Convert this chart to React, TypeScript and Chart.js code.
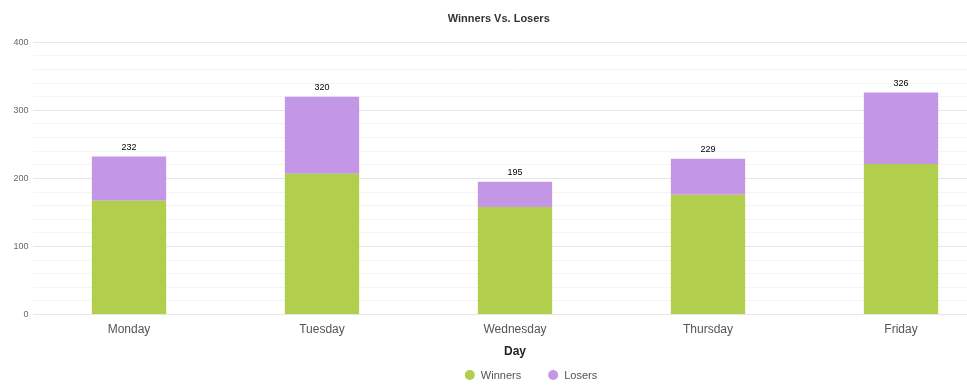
import React, { useEffect, useRef } from "react";
import { Chart, registerables } from "chart.js";

Chart.register(...registerables);

const days = ["Monday", "Tuesday", "Wednesday", "Thursday", "Friday"];
const winners = [167, 207, 158, 176, 221];
const losers = [65, 113, 37, 53, 105];
const totals = [232, 320, 195, 229, 326];
const yTicks = [0, 100, 200, 300, 400];

const FONT = "'Liberation Sans', Arial, sans-serif";

const totalLabels = {
  id: "totalLabels",
  afterDatasetsDraw(chart: any) {
    const ctx = chart.ctx;
    const meta = chart.getDatasetMeta(1);
    ctx.save();
    ctx.font = `9px ${FONT}`;
    ctx.fillStyle = "#000";
    ctx.textAlign = "center";
    ctx.textBaseline = "bottom";
    meta.data.forEach((bar: any, i: number) => {
      ctx.fillText(String(totals[i]), bar.x, bar.y - 5);
    });
    ctx.restore();
  },
};

const bottomLegend = {
  id: "bottomLegend",
  afterDraw(chart: any) {
    const ctx = chart.ctx;
    const ds = chart.data.datasets;
    ctx.save();
    ctx.font = `11px ${FONT}`;
    const r = 5;
    const gapText = 6;
    const gapItems = 27;
    const widths = ds.map((d: any) => 2 * r + gapText + ctx.measureText(d.label).width);
    const total = widths.reduce((a: number, b: number) => a + b, 0) + gapItems * (ds.length - 1);
    const cx = (chart.chartArea.left + chart.chartArea.right) / 2 + 16;
    let x = cx - total / 2;
    const y = 375;
    ds.forEach((d: any, i: number) => {
      ctx.beginPath();
      ctx.fillStyle = d.backgroundColor;
      ctx.arc(x + r, y, r, 0, Math.PI * 2);
      ctx.fill();
      ctx.fillStyle = "#555";
      ctx.textAlign = "left";
      ctx.textBaseline = "middle";
      ctx.fillText(d.label, x + 2 * r + gapText, y + 0.5);
      x += widths[i] + gapItems;
    });
    ctx.restore();
  },
};

export default function App() {
  const ref = useRef<HTMLCanvasElement>(null);
  useEffect(() => {
    const chart = new Chart(ref.current!, {
      type: "bar",
      data: {
        labels: days,
        datasets: [
          {
            label: "Winners",
            data: winners,
            backgroundColor: "#b1cf4c",
            borderWidth: 0,
            barPercentage: 0.385,
            categoryPercentage: 1,
          },
          {
            label: "Losers",
            data: losers,
            backgroundColor: "#c397e5",
            borderWidth: 0,
            barPercentage: 0.385,
            categoryPercentage: 1,
          },
        ],
      },
      options: {
        responsive: false,
        animation: false,
        layout: { padding: { top: 0, right: 2.5, bottom: 26, left: 0 } },
        plugins: {
          title: {
            display: true,
            text: "Winners Vs. Losers",
            color: "#333",
            font: { family: FONT, size: 11, weight: "bold" },
            padding: { top: 12, bottom: 17 },
          },
          legend: { display: false },
          tooltip: { enabled: false },
        },
        scales: {
          x: {
            stacked: true,
            grid: { display: false, drawTicks: false },
            border: { display: false },
            ticks: {
              color: "#555",
              padding: 9,
              font: { family: FONT, size: 12, lineHeight: 1 },
            },
            title: {
              display: true,
              text: "Day",
              color: "#222",
              padding: { top: 0, bottom: 0 },
              font: { family: FONT, size: 12, weight: "bold" },
            },
          },
          y: {
            stacked: true,
            min: 0,
            max: 400,
            afterFit: (scale: any) => {
              scale.width = 32.5;
            },
            border: { display: false },
            grid: {
              drawTicks: false,
              color: (c: any) => (c.tick && c.tick.value % 100 === 0 ? "#e6e6e6" : "#f4f4f4"),
            },
            ticks: {
              stepSize: 20,
              autoSkip: false,
              padding: 4,
              color: "#666",
              font: { family: FONT, size: 9 },
              callback: (v: any) => (yTicks.includes(Number(v)) ? String(v) : ""),
            },
          },
        },
      },
      plugins: [totalLabels, bottomLegend],
    } as any);
    return () => chart.destroy();
  }, []);
  return (
    <div
      style={{
        position: "fixed",
        left: 0,
        top: 0,
        width: 967,
        height: 385,
        overflow: "hidden",
        background: "#fff",
      }}
    >
      <canvas ref={ref} width={1000} height={385} />
    </div>
  );
}
